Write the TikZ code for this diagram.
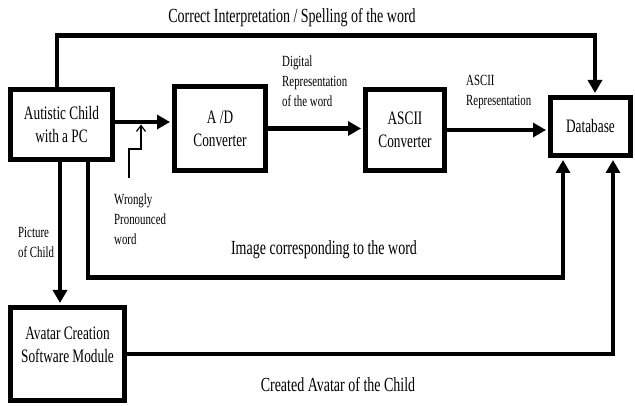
\documentclass[tikz,border=0pt]{standalone}
\usepackage{fontspec}
\setmainfont{Liberation Serif}[FakeStretch=0.7]
\usetikzlibrary{arrows.meta,positioning}

\begin{document}
\begin{tikzpicture}[
    x=1pt, y=-1pt,
    box/.style={
        draw=black,
        line width=5pt,
        align=center,
        inner sep=0pt,
        font=\fontsize{19}{23}\selectfont
    },
    arr/.style={-{Triangle[length=13pt,width=14pt]}, line width=4.5pt, shorten >=2pt},
    thinarr/.style={-{Straight Barb[length=6pt,width=9pt]}, line width=1.2pt},
    biglbl/.style={font=\fontsize{20}{24}\selectfont, inner sep=0pt},
    smalllbl/.style={font=\fontsize{15.5}{20}\selectfont, align=left, anchor=west, inner sep=0pt}
]
\useasboundingbox (0,0) rectangle (635,406);

% blocks
\node[box, minimum width=102pt, minimum height=70pt] (child) at (61.5,124.5) {Autistic Child\\with a PC};
\node[box, minimum width=91pt, minimum height=84pt] (ad) at (220,128.5) {A /D\\Converter};
\node[box, minimum width=79pt, minimum height=81pt] (ascii) at (405,130) {ASCII\\Converter};
\node[box, minimum width=80pt, minimum height=58pt] (db) at (590.5,126.5) {Database};
\node[box, minimum width=114pt, minimum height=93pt, text depth=18pt] (avatar) at (67.5,354) {Avatar Creation\\Software Module};

% labels
\node[biglbl] (lcorrect) at (292,18) {Correct Interpretation / Spelling of the word};
\node[smalllbl] (ldigital) at (282,81) {Digital\\Representation\\of the word};
\node[smalllbl] (lascii) at (466,92) {ASCII\\Representation};
\node[smalllbl] (lwrong) at (114,219.5) {Wrongly\\Pronounced\\word};
\node[smalllbl] (lpicture) at (18,242) {Picture\\of Child};
\node[biglbl] (limage) at (324,250) {Image corresponding to the word};
\node[biglbl] (lavatar) at (338,385) {Created Avatar of the Child};

% connectors
\draw[arr] ([xshift=-4.5pt]child.north) -- ++(0,-51.5) -| ([xshift=4.5pt]db.north);
\coordinate (c1) at ([yshift=2.5pt]child.east);
\draw[arr] (c1) -- (c1 -| ad.west);
\draw[arr] (ad.east) -- (ad.east -| ascii.west);
\draw[arr] (ascii.east) -- (ascii.east -| db.west);
\coordinate (wstart) at (129,178);
\coordinate (wtip) at (141,124.5);
\draw[thinarr] (wstart) -- ++(0,-29) -| (wtip);
\coordinate (c2) at ([xshift=-1.5pt]child.south);
\draw[arr] (c2) -- (c2 |- avatar.north);
\draw[arr] ([xshift=26.5pt]child.south) -- ++(0,115.5) -| ([xshift=-27.5pt]db.south);
\draw[arr] (avatar.east) -| ([xshift=22.5pt]db.south);

\end{tikzpicture}
\end{document}
